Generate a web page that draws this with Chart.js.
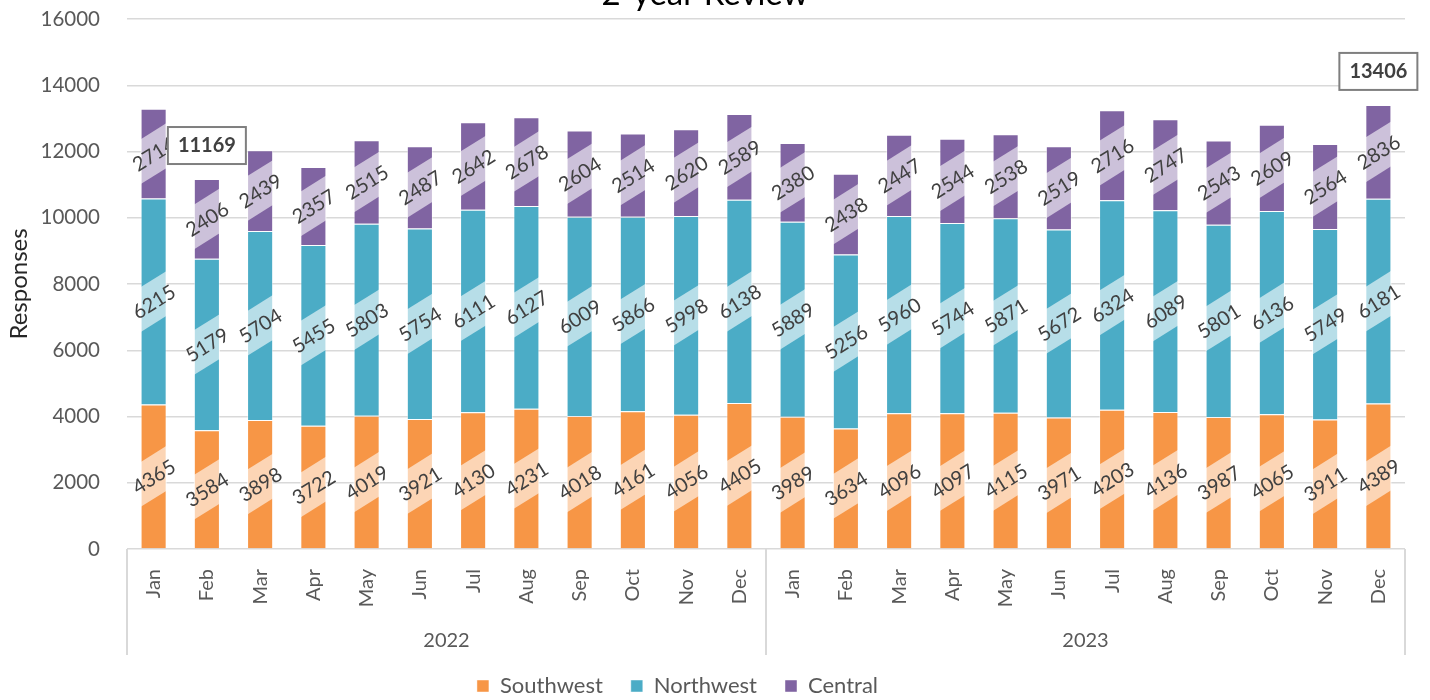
<!DOCTYPE html>
<html>
<head>
<meta charset="utf-8">
<title>2-year Review</title>
<script src="https://cdn.jsdelivr.net/npm/chart.js@4.4.1/dist/chart.umd.min.js"></script>
<style>
  html, body { margin: 0; padding: 0; background: #fff; }
  #wrap { width: 1430px; height: 700px; }
</style>
</head>
<body>
<div id="wrap"><canvas id="reviewChart"></canvas></div>
<script>
var months = ['Jan', 'Feb', 'Mar', 'Apr', 'May', 'Jun', 'Jul', 'Aug', 'Sep', 'Oct', 'Nov', 'Dec'];
var years = ['2022', '2023'];

// 2022 Jan..Dec, then 2023 Jan..Dec
var southwest = [4365, 3584, 3898, 3722, 4019, 3921, 4130, 4231, 4018, 4161, 4056, 4405,
                 3989, 3634, 4096, 4097, 4115, 3971, 4203, 4136, 3987, 4065, 3911, 4389];
var northwest = [6215, 5179, 5704, 5455, 5803, 5754, 6111, 6127, 6009, 5866, 5998, 6138,
                 5889, 5256, 5960, 5744, 5871, 5672, 6324, 6089, 5801, 6136, 5749, 6181];
var central   = [2714, 2406, 2439, 2357, 2515, 2487, 2642, 2678, 2604, 2514, 2620, 2589,
                 2380, 2438, 2447, 2544, 2538, 2519, 2716, 2747, 2543, 2609, 2564, 2836];

var yMax = 16000;
var yStep = 2000;

var FONT = 'Lato, "Open Sans", sans-serif';
var TEXT = '#595959';
var GRID = '#d9d9d9';
var PAD_LEFT = -50;   // shifts the full-width legend left, y axis width makes up for it
var PAD_BOTTOM = -7;  // legend a little lower
var PLOT_TOP = 19;
var PLOT_BOTTOM = 549;

var labels = [];
years.forEach(function (y) {
  months.forEach(function (m) { labels.push(m); });
});

// segment labels on a slanted light band, clipped to the bar
var bandLabels = {
  id: 'bandLabels',
  afterDatasetsDraw: function (chart) {
    var ctx = chart.ctx;
    var angle = -32 * Math.PI / 180;
    var texts = [];
    chart.data.datasets.forEach(function (ds, di) {
      var meta = chart.getDatasetMeta(di);
      meta.data.forEach(function (bar, i) {
        var p = bar.getProps(['x', 'y', 'base', 'width'], true);
        var top = Math.min(p.y, p.base);
        var h = Math.abs(p.base - p.y);
        var cy = top + h / 2;
        ctx.save();
        ctx.beginPath();
        ctx.rect(p.x - p.width / 2, top, p.width, h);
        ctx.clip();
        ctx.translate(p.x, cy);
        ctx.rotate(angle);
        ctx.fillStyle = 'rgba(255,255,255,0.6)';
        ctx.fillRect(-80, -19, 160, 38);
        ctx.restore();
        texts.push([p.x, cy, ds.data[i]]);
      });
    });
    ctx.save();
    ctx.font = '20px ' + FONT;
    ctx.fillStyle = '#404040';
    ctx.textAlign = 'center';
    ctx.textBaseline = 'middle';
    texts.forEach(function (t) {
      ctx.save();
      ctx.translate(t[0], t[1]);
      ctx.rotate(angle);
      ctx.fillText(String(t[2]), 0, 1);
      ctx.restore();
    });
    ctx.restore();
  }
};

// boxed totals for the lowest and highest month
var totalCallouts = {
  id: 'totalCallouts',
  afterDatasetsDraw: function (chart) {
    var ctx = chart.ctx;
    var totals = southwest.map(function (v, i) { return v + northwest[i] + central[i]; });
    var lo = totals.indexOf(Math.min.apply(null, totals));
    var hi = totals.indexOf(Math.max.apply(null, totals));
    var xs = chart.scales.x, ys = chart.scales.y;
    ctx.save();
    ctx.font = 'bold 20px ' + FONT;
    ctx.textAlign = 'center';
    ctx.textBaseline = 'middle';
    [lo, hi].forEach(function (i) {
      var x = xs.getPixelForValue(i);
      var y = ys.getPixelForValue(totals[i]) - 34;
      ctx.fillStyle = '#fff';
      ctx.fillRect(x - 39, y - 18, 78, 37);
      ctx.strokeStyle = '#7f7f7f';
      ctx.lineWidth = 2;
      ctx.strokeRect(x - 39, y - 18, 78, 37);
      ctx.fillStyle = '#404040';
      ctx.fillText(String(totals[i]), x, y + 1);
    });
    ctx.restore();
  }
};

// title, year group row and its divider lines
var frame = {
  id: 'frame',
  afterDraw: function (chart) {
    var ctx = chart.ctx;
    var xs = chart.scales.x;
    var area = chart.chartArea;
    var n = months.length;
    ctx.save();
    ctx.strokeStyle = GRID;
    ctx.lineWidth = 2;
    var lines = [area.left, area.right];
    for (var g = 1; g < years.length; g++) {
      lines.push((xs.getPixelForValue(g * n - 1) + xs.getPixelForValue(g * n)) / 2);
    }
    lines.forEach(function (lx) {
      ctx.beginPath();
      ctx.moveTo(lx, area.bottom);
      ctx.lineTo(lx, area.bottom + 106);
      ctx.stroke();
    });
    ctx.font = '20px ' + FONT;
    ctx.fillStyle = TEXT;
    ctx.textAlign = 'center';
    ctx.textBaseline = 'middle';
    years.forEach(function (y, g) {
      var cx = (xs.getPixelForValue(g * n) + xs.getPixelForValue(g * n + n - 1)) / 2;
      ctx.fillText(y, cx, area.bottom + 92);
    });
    ctx.font = '33px ' + FONT;
    ctx.fillStyle = '#000';
    ctx.textBaseline = 'alphabetic';
    ctx.fillText('2-year Review', 705, 5);
    ctx.restore();
  }
};

var ctx = document.getElementById('reviewChart').getContext('2d');
var chart = new Chart(ctx, {
  type: 'bar',
  data: {
    labels: labels,
    datasets: [{
      label: 'Southwest',
      backgroundColor: '#F79646',
      borderColor: 'rgba(255,255,255,0.45)',
      borderWidth: 1,
      data: southwest
    }, {
      label: 'Northwest',
      backgroundColor: '#4BACC6',
      borderColor: 'rgba(255,255,255,0.45)',
      borderWidth: 1,
      data: northwest
    }, {
      label: 'Central',
      backgroundColor: '#8064A2',
      borderColor: 'rgba(255,255,255,0.45)',
      borderWidth: 1,
      data: central
    }]
  },
  options: {
    responsive: true,
    maintainAspectRatio: false,
    animation: false,
    layout: { padding: { top: 0, right: 25, left: PAD_LEFT, bottom: PAD_BOTTOM } },
    datasets: { bar: { categoryPercentage: 0.49, barPercentage: 1.0 } },
    plugins: {
      legend: {
        position: 'bottom',
        labels: {
          font: { family: FONT, size: 22 },
          color: TEXT,
          boxWidth: 12,
          boxHeight: 12,
          padding: 28
        }
      },
      tooltip: { enabled: false }
    },
    scales: {
      x: {
        stacked: true,
        grid: { display: false },
        border: { display: false },
        ticks: {
          font: { family: FONT, size: 20 },
          color: TEXT,
          minRotation: 90,
          maxRotation: 90,
          autoSkip: false,
          padding: 12
        },
        afterFit: function (scale) {
          var lg = scale.chart.legend;
          scale.height = scale.chart.height - PAD_BOTTOM - PLOT_BOTTOM - (lg ? lg.height : 0);
          scale.paddingTop = 0;
          scale.paddingBottom = 0;
        }
      },
      y: {
        stacked: true,
        min: 0,
        max: yMax,
        border: { display: false },
        grid: { color: GRID, lineWidth: 1.5, drawTicks: false },
        ticks: {
          stepSize: yStep,
          font: { family: FONT, size: 20.5 },
          color: TEXT,
          padding: 27,
          callback: function (v) { return String(v); }
        },
        title: {
          display: true,
          text: 'Responses',
          font: { family: FONT, size: 24 },
          color: '#262626',
          padding: { top: 55, bottom: 0 }
        },
        afterFit: function (scale) {
          scale.width = 127 - PAD_LEFT;
          scale.paddingTop = PLOT_TOP;
          scale.paddingBottom = 0;
        }
      }
    }
  },
  plugins: [bandLabels, totalCallouts, frame]
});
</script>
</body>
</html>
